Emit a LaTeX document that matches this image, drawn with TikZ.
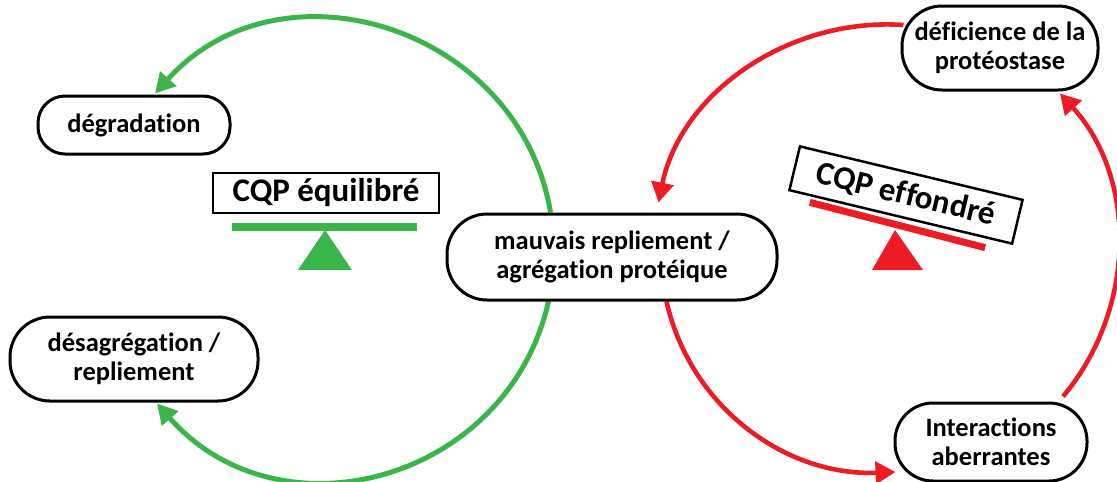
\documentclass[tikz,border=0pt]{standalone}
\usepackage{fontspec}
\setmainfont[Ligatures=NoCommon]{Carlito}
\usetikzlibrary{arrows.meta}
\definecolor{cgreen}{RGB}{57,181,74}
\definecolor{cred}{RGB}{237,28,36}
\pgfdeclarelayer{bg}
\pgfsetlayers{bg,main}
\tikzset{
  pill/.style={draw=black, line width=3pt, fill=white, rounded corners=#1,
    align=center, inner sep=0pt, font=\bfseries\fontsize{26.5}{29.5}\selectfont},
  cqpbox/.style={draw=black, line width=2.5pt, fill=white, inner sep=0pt,
    font=\bfseries\fontsize{33}{36}\selectfont},
  garr/.style={draw=cgreen, line width=5pt, -{Triangle[length=20pt,width=21pt]}},
  rarr/.style={draw=cred, line width=4.6pt, -{Triangle[length=20pt,width=22pt]}},
}
\begin{document}
\begin{tikzpicture}[x=1pt,y=1pt]
\useasboundingbox (0,0) rectangle (1117,-482);
\node[pill=27, minimum width=192, minimum height=58] (degr) at (134,-125) {dégradation};
\node[pill=40, minimum width=248, minimum height=84] (desag) at (134,-359) {désagrégation /\\repliement};
\node[pill=40, minimum width=330, minimum height=86] (mauv) at (612,-257) {mauvais repliement /\\agrégation protéique};
\node[pill=40, minimum width=196, minimum height=84] (defi) at (1000,-48) {déficience de la\\protéostase};
\node[pill=38, minimum width=192, minimum height=78] (inter) at (991,-442) {Interactions\\aberrantes};

% balance: CQP equilibre
\fill[cgreen] (325,-230) -- (298,-270) -- (352,-270) -- cycle;
\fill[cgreen] (232,-223) rectangle (417,-231);
\node[cqpbox, minimum width=226, minimum height=40] (eqbox) at (326,-193) {CQP équilibré};

% balance: CQP effondre
\fill[cred] (895,-230) -- (872,-270) -- (923,-270) -- cycle;
\fill[cred, rotate around={-14.5:(897.5,-225)}] (807,-221.5) rectangle (988,-228.5);
\node[cqpbox, rotate=-13.5, minimum width=229, minimum height=45] (efbox) at (906,-195) {CQP effondré};

\begin{pgfonlayer}{bg}
\draw[garr] ([xshift=105]mauv.north west) to[out=99.5, in=48, looseness=1.17] ([xshift=21,yshift=1]degr.north);
\draw[garr] ([xshift=103]mauv.south west) to[out=-102.8, in=-48.7, looseness=1.17] ([xshift=23,yshift=-1]desag.south);
\draw[rarr] ([xshift=3,yshift=23]defi.west) to[out=176, in=78.4, looseness=0.96] ([xshift=213,yshift=10]mauv.north west);
\draw[rarr] ([xshift=221]mauv.south west) to[out=-77.2, in=182.3, looseness=0.98] ([xshift=2,yshift=-30]inter.west);
\draw[rarr] ([xshift=72,yshift=5]inter.north) to[out=50, in=-47.6, looseness=0.965] ([xshift=60,yshift=-2]defi.south);
\end{pgfonlayer}
\end{tikzpicture}
\end{document}
